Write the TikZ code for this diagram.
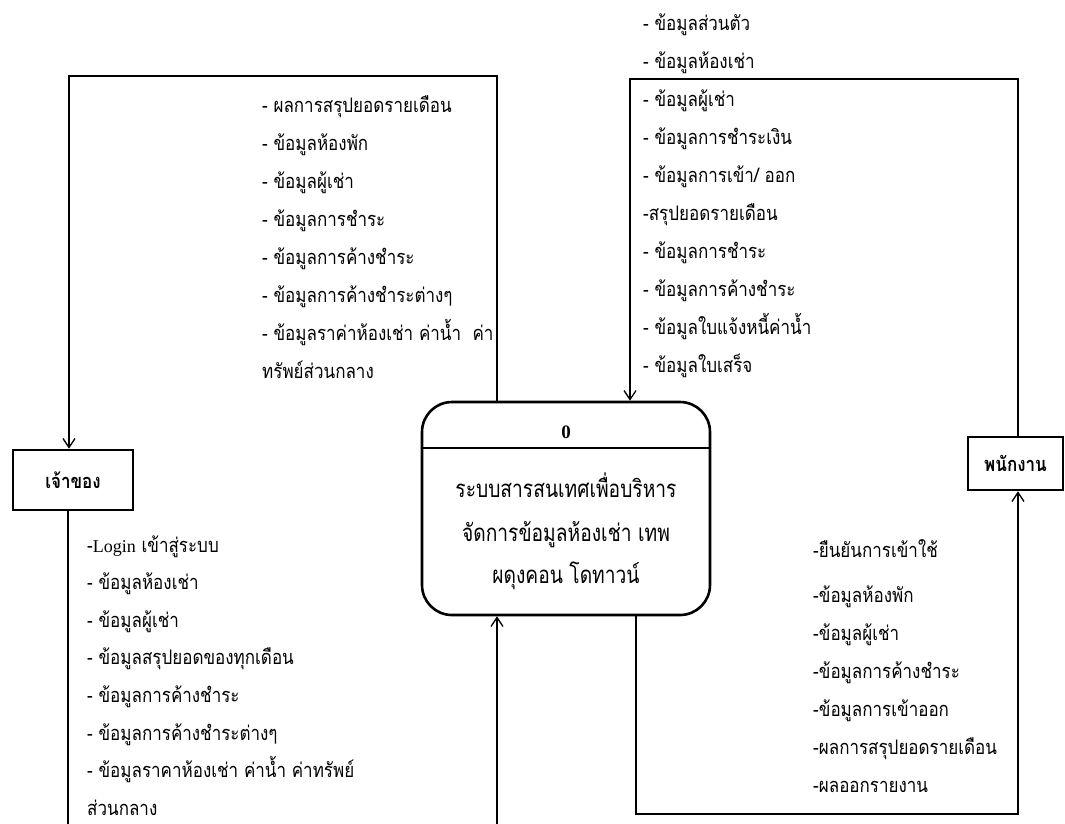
\documentclass[tikz,border=0pt]{standalone}
\usepackage{fontspec}
\usetikzlibrary{arrows.meta}
\newfontfamily\thaifont[Script=Thai,FakeStretch=0.85]{Loma}
\newfontfamily\thaiproc[Script=Thai,FakeStretch=0.8]{Loma}
\newfontfamily\latinserif{Liberation Serif}
\newcommand{\stacklines}[2]{\vtop{\baselineskip=#1\lineskiplimit=-200pt\lineskip=0pt #2}}
\begin{document}
\begin{tikzpicture}[x=1pt,y=-1pt,
  entity/.style={draw,line width=2.6pt,inner sep=0pt,font=\thaifont\bfseries\fontsize{20}{24}\selectfont},
  procbox/.style={draw,line width=2.6pt,rounded corners=30pt,minimum width=288pt,minimum height=213pt,inner sep=0pt},
  proctext/.style={anchor=base,inner sep=0pt,font=\thaiproc\fontsize{24}{28}\selectfont},
  flow/.style={line width=1.3pt,-{Straight Barb[length=9pt,width=12pt,line width=1.3pt]}},
  lbl/.style={anchor=base west,inner sep=0pt,font=\thaifont\fontsize{20}{38}\selectfont}]
\useasboundingbox (0,0) rectangle (1065,823);
\clip (0,0) rectangle (1065,823);
% process
\node[procbox] (proc) at (566,508.5) {};
\coordinate (dl) at (0,448);
\draw[line width=2.6pt] (proc.west |- dl) -- (proc.east |- dl);
\node[anchor=base,inner sep=0pt,font=\latinserif\bfseries\fontsize{19}{22}\selectfont] (pnum) at (566,438.5) {0};
\node[proctext] (p1) at (566,497) {ระบบสารสนเทศเพื่อบริหาร};
\node[proctext] (p2) at (566,541) {จัดการข้อมูลห้องเช่า เทพ};
\node[proctext] (p3) at (566,583) {ผดุงคอน โดทาวน์};
% entities
\node[entity,minimum width=120pt,minimum height=60pt] (owner) at (73,480) {เจ้าของ};
\node[entity,minimum width=95pt,minimum height=53pt] (staff) at (1015.5,463.5) {พนักงาน};
% connectors
\coordinate (tl) at (300,76);
\coordinate (tr) at (800,79);
\coordinate (br) at (800,814);
\coordinate (bl) at (300,860);
\draw[flow] ([xshift=-69pt]proc.north) |- (tl) -| ([xshift=-4pt]owner.north);
\draw[flow] ([xshift=2.5pt]staff.north) |- (tr) -| ([xshift=64pt]proc.north);
\draw[flow] ([xshift=70pt]proc.south) |- (br) -| ([xshift=2.5pt]staff.south);
\draw[flow] ([xshift=-5pt]owner.south) |- (bl) -| ([xshift=-69pt]proc.south);
% labels
\node[lbl] (ltl) at (262,112) {\stacklines{38pt}{%
\hbox{- ผลการสรุปยอดรายเดือน}%
\hbox{- ข้อมูลห้องพัก}%
\hbox{- ข้อมูลผู้เช่า}%
\hbox{- ข้อมูลการชำระ}%
\hbox{- ข้อมูลการค้างชำระ}%
\hbox{- ข้อมูลการค้างชำระต่างๆ}%
\hbox{- ข้อมูลราค่าห้องเช่า ค่าน้ำ \ ค่า}%
\hbox{ทรัพย์ส่วนกลาง}}};
\node[lbl] (ltr) at (643,30) {\stacklines{38pt}{%
\hbox{- ข้อมูลส่วนตัว}%
\hbox{- ข้อมูลห้องเช่า}%
\hbox{- ข้อมูลผู้เช่า}%
\hbox{- ข้อมูลการชำระเงิน}%
\hbox{- ข้อมูลการเข้า/ ออก}%
\hbox{-สรุปยอดรายเดือน}%
\hbox{- ข้อมูลการชำระ}%
\hbox{- ข้อมูลการค้างชำระ}%
\hbox{- ข้อมูลใบแจ้งหนี้ค่าน้ำ}%
\hbox{- ข้อมูลใบเสร็จ}}};
\node[lbl] (lbl1) at (87,552) {\stacklines{37.6pt}{%
\hbox{-{\latinserif\fontsize{18}{22}\selectfont Login} เข้าสู่ระบบ}%
\hbox{- ข้อมูลห้องเช่า}%
\hbox{- ข้อมูลผู้เช่า}%
\hbox{- ข้อมูลสรุปยอดของทุกเดือน}%
\hbox{- ข้อมูลการค้างชำระ}%
\hbox{- ข้อมูลการค้างชำระต่างๆ}%
\hbox{- ข้อมูลราคาห้องเช่า ค่าน้ำ ค่าทรัพย์}%
\hbox{ส่วนกลาง}}};
\node[lbl] (lbr) at (813,557) {\stacklines{38pt}{%
\hbox{-ยืนยันการเข้าใช้}\vskip7pt
\hbox{-ข้อมูลห้องพัก}%
\hbox{-ข้อมูลผู้เช่า}%
\hbox{-ข้อมูลการค้างชำระ}%
\hbox{-ข้อมูลการเข้าออก}%
\hbox{-ผลการสรุปยอดรายเดือน}%
\hbox{-ผลออกรายงาน}}};
\end{tikzpicture}
\end{document}
